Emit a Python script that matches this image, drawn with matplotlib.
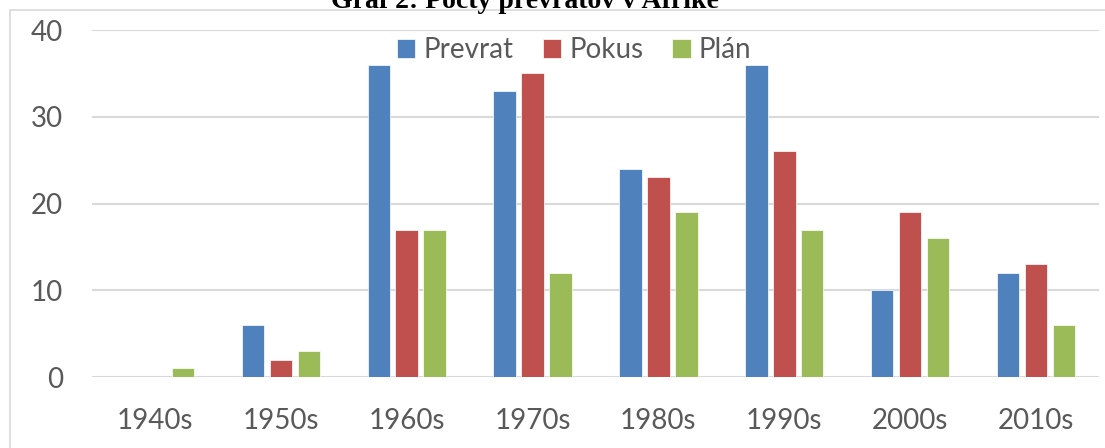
import matplotlib.pyplot as plt
import matplotlib.patches as mpatches
import numpy as np

decades = ['1940s', '1950s', '1960s', '1970s', '1980s', '1990s', '2000s', '2010s']
prevrat = [0, 6, 36, 33, 24, 36, 10, 12]
pokus = [0, 2, 17, 35, 23, 26, 19, 13]
plan = [1, 3, 17, 12, 19, 17, 16, 6]

series = [('Prevrat', prevrat, '#4F81BD'),
          ('Pokus', pokus, '#C0504D'),
          ('Plán', plan, '#9BBB59')]

plt.rcParams['font.family'] = ['Lato', 'DejaVu Sans']

fig = plt.figure(figsize=(11.05, 4.48), dpi=100)
ax = fig.add_axes([92 / 1105, 1 - 377 / 448, 1007 / 1105, 347 / 448])

# outer chart border (only top and left visible in the crop)
fig.patches.append(mpatches.Rectangle((10 / 1105, -0.5), 2, 1.5 - 10 / 448,
                                      transform=fig.transFigure, fill=False,
                                      edgecolor='#d9d9d9', linewidth=1.2))

x = np.arange(len(decades))
step = 0.222
for i, (name, vals, col) in enumerate(series):
    ax.bar(x + (i - 1) * step, vals, width=0.178, color=col, label=name,
           edgecolor='white', linewidth=0.5, zorder=3)

ax.set_xlim(-0.5, len(decades) - 0.5)
ax.set_ylim(0, 40)
ax.set_yticks([0, 10, 20, 30, 40])
ax.set_xticks(x)
ax.set_xticklabels(decades)
ax.yaxis.grid(True, color='#d9d9d9', linewidth=1.5, zorder=0)
ax.set_axisbelow(True)
for s in ax.spines.values():
    s.set_visible(False)
ax.tick_params(axis='both', length=0, labelsize=20, colors='#595959')
ax.tick_params(axis='y', pad=21)
ax.tick_params(axis='x', pad=22)

ax.legend(loc='center', bbox_to_anchor=(0.479, 0.942), ncol=3, frameon=False,
          fontsize=20, handlelength=0.65, handleheight=0.65, handletextpad=0.3,
          columnspacing=1.05, labelcolor='#595959', borderaxespad=0, borderpad=0)

# title is partly cut off by the top edge, as in the source
fig.text(525 / 1105, 1 - 8 / 448, 'Graf 2: Počty prevratov v Afrike',
         ha='center', va='baseline', fontsize=20, fontweight='bold',
         family='Liberation Serif')

fig.savefig('out.png', dpi=100)
